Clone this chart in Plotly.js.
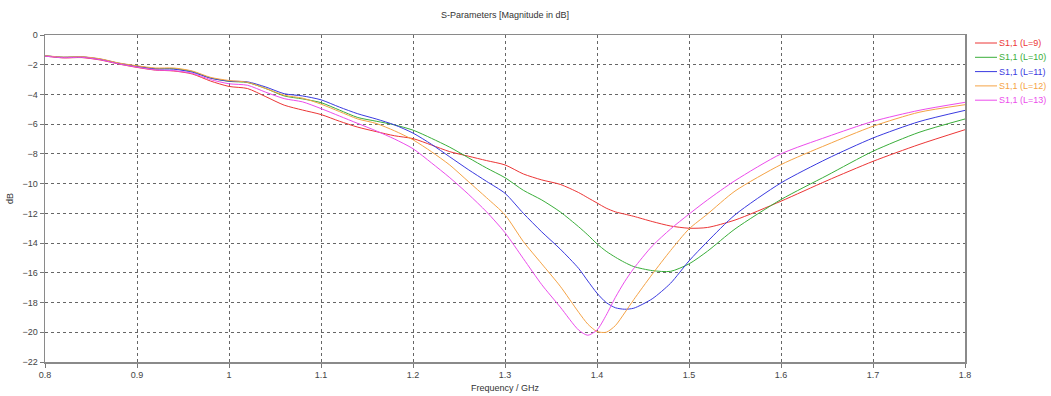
<!DOCTYPE html>
<html>
<head>
<meta charset="utf-8">
<script src="https://cdn.plot.ly/plotly-3.0.1.min.js"></script>
<style>html,body{margin:0;padding:0;background:#fff;}#chart{width:1051px;height:396px;}</style>
</head>
<body>
<div id="chart"></div>
<script>
const freq = [0.80,0.82,0.84,0.86,0.88,0.90,0.92,0.94,0.96,0.98,1.00,1.02,1.04,1.06,1.08,1.10,1.12,1.14,
  1.16,1.18,1.20,1.22,1.24,1.26,1.28,1.30,1.32,1.34,1.36,1.38,
  1.39,1.40,1.41,1.42,1.43,1.44,
  1.46,1.48,1.50,1.52,
  1.55,1.60,1.65,1.70,1.75,1.80];

const sL9 = [-1.42,-1.54,-1.52,-1.68,-1.95,-2.18,-2.36,-2.42,-2.62,-3.10,-3.46,-3.60,-4.15,-4.72,-5.05,-5.35,-5.80,-6.20,
  -6.50,-6.78,-6.97,-7.40,-7.85,-8.15,-8.45,-8.74,-9.35,-9.75,-10.05,-10.60,
  -10.95,-11.30,-11.65,-11.90,-12.05,-12.20,
  -12.55,-12.85,-13.00,-12.95,
  -12.45,-11.18,-9.80,-8.50,-7.37,-6.37];

const sL10 = [-1.40,-1.50,-1.48,-1.62,-1.90,-2.10,-2.26,-2.26,-2.45,-2.90,-3.12,-3.20,-3.60,-4.10,-4.30,-4.55,-5.05,-5.55,
  -5.80,-6.05,-6.40,-6.95,-7.55,-8.25,-8.95,-9.60,-10.45,-11.10,-11.90,-12.90,
  -13.45,-14.05,-14.55,-14.95,-15.30,-15.58,
  -15.85,-15.90,-15.40,-14.55,
  -13.05,-11.07,-9.45,-7.82,-6.55,-5.65];

const sL11 = [-1.40,-1.50,-1.47,-1.63,-1.90,-2.10,-2.28,-2.30,-2.50,-2.90,-3.10,-3.15,-3.50,-3.95,-4.10,-4.36,-4.85,-5.30,
  -5.65,-6.05,-6.60,-7.35,-8.20,-9.05,-9.85,-10.65,-12.00,-13.25,-14.40,-15.70,
  -16.55,-17.37,-18.00,-18.35,-18.45,-18.38,
  -17.75,-16.70,-15.20,-13.90,
  -12.10,-9.95,-8.33,-6.93,-5.83,-5.07];

const sL12 = [-1.39,-1.49,-1.46,-1.60,-1.88,-2.07,-2.22,-2.22,-2.42,-2.85,-3.06,-3.18,-3.60,-4.05,-4.25,-4.65,-5.15,-5.65,
  -5.95,-6.45,-7.05,-7.85,-8.75,-9.85,-10.95,-12.10,-13.90,-15.40,-16.90,-18.65,
  -19.45,-19.95,-20.00,-19.55,-18.70,-17.80,
  -16.10,-14.50,-13.05,-12.05,
  -10.50,-8.72,-7.38,-6.14,-5.20,-4.69];

const sL13 = [-1.42,-1.53,-1.50,-1.66,-1.94,-2.16,-2.35,-2.40,-2.58,-3.00,-3.28,-3.38,-3.85,-4.28,-4.50,-4.95,-5.45,-5.95,
  -6.45,-7.00,-7.65,-8.60,-9.60,-10.70,-11.90,-13.30,-15.05,-16.80,-18.30,-19.85,
  -20.20,-19.85,-18.85,-17.65,-16.60,-15.70,
  -14.20,-13.05,-12.05,-11.10,
  -9.80,-8.00,-6.85,-5.81,-5.07,-4.53];

const seriesNames = ["S1,1 (L=9)","S1,1 (L=10)","S1,1 (L=11)","S1,1 (L=12)","S1,1 (L=13)"];
const seriesValues = [sL9, sL10, sL11, sL12, sL13];
const seriesColors = ["#ec3636","#3aae3a","#3a3ae0","#f5a345","#ec4cec"];
const xTicks = [0.8,0.9,1,1.1,1.2,1.3,1.4,1.5,1.6,1.7,1.8];
const xTickText = ["0.8","0.9","1","1.1","1.2","1.3","1.4","1.5","1.6","1.7","1.8"];
const yTicks = [0,-2,-4,-6,-8,-10,-12,-14,-16,-18,-20,-22];

const FONT = "Liberation Sans, Arial, sans-serif";
const W = 1051, H = 396;
const M = {l: 45, r: 86, t: 35, b: 34};
const plotW = W - M.l - M.r, plotH = H - M.t - M.b;
const px2x = px => (px - M.l) / plotW;
const py2y = py => (H - M.b - py) / plotH;

const traces = seriesValues.map((vals, i) => ({
  x: freq,
  y: vals,
  type: "scatter",
  mode: "lines",
  name: seriesNames[i],
  showlegend: false,
  line: {color: seriesColors[i], width: 1, shape: "spline", smoothing: 0.7}
}));

// legend drawn as layout decoration (line swatch + coloured label)
const legendTop = 43, legendStep = 14.3;
const shapes = [], annotations = [];
seriesNames.forEach((nm, i) => {
  const yy = py2y(legendTop + i * legendStep);
  shapes.push({type: "line", xref: "paper", yref: "paper",
    x0: px2x(975), x1: px2x(997), y0: yy, y1: yy,
    line: {color: seriesColors[i], width: 1}});
  annotations.push({xref: "paper", yref: "paper", x: px2x(999), y: yy,
    xanchor: "left", yanchor: "middle", showarrow: false, text: nm,
    borderpad: 0, borderwidth: 0,
    font: {family: FONT, size: 9, color: seriesColors[i]}});
});

const layout = {
  width: W,
  height: H,
  paper_bgcolor: "#ffffff",
  plot_bgcolor: "#ffffff",
  margin: M,
  font: {family: FONT, size: 9, color: "#333"},
  title: {
    text: "S-Parameters [Magnitude in dB]",
    font: {family: FONT, size: 9, color: "#333"},
    x: 0.5, xref: "paper", xanchor: "center",
    y: 0.962, yref: "container", yanchor: "middle"
  },
  xaxis: {
    range: [0.8, 1.8],
    tickvals: xTicks,
    ticktext: xTickText,
    ticks: "outside",
    ticklen: 4,
    tickcolor: "#777",
    showline: true,
    linecolor: "#8a8a8a",
    linewidth: 1.5,
    mirror: true,
    showgrid: true,
    gridcolor: "#666",
    griddash: "dot",
    gridwidth: 1,
    zeroline: false,
    tickfont: {family: FONT, size: 9, color: "#444"},
    title: {text: "Frequency / GHz", font: {family: FONT, size: 9, color: "#333"}, standoff: 5}
  },
  yaxis: {
    range: [-22, 0],
    tickvals: yTicks,
    ticks: "outside",
    ticklen: 4,
    tickcolor: "#777",
    showline: true,
    linecolor: "#8a8a8a",
    linewidth: 1.5,
    mirror: true,
    showgrid: true,
    gridcolor: "#666",
    griddash: "dot",
    gridwidth: 1,
    zeroline: false,
    tickfont: {family: FONT, size: 9, color: "#444"},
    title: {text: "dB", font: {family: FONT, size: 9, color: "#333"}, standoff: 7}
  },
  showlegend: false,
  shapes: shapes,
  annotations: annotations
};

Plotly.newPlot("chart", traces, layout, {staticPlot: true, displayModeBar: false});
</script>
</body>
</html>
